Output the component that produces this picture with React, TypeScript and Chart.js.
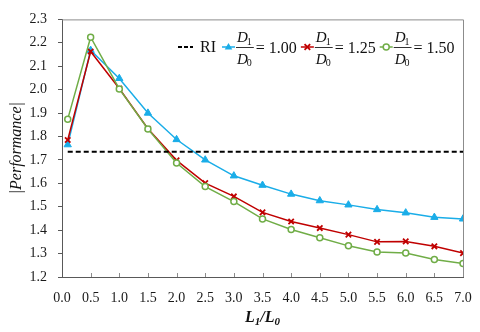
import React, { useEffect, useRef } from "react";
import { Chart, registerables } from "chart.js";

Chart.register(...registerables);

const xValues = [0.1, 0.5, 1.0, 1.5, 2.0, 2.5, 3.0, 3.5, 4.0, 4.5, 5.0, 5.5, 6.0, 6.5, 7.0];
const ratio100 = [1.765, 2.168, 2.048, 1.9, 1.787, 1.7, 1.632, 1.592, 1.554, 1.526, 1.508, 1.488, 1.474, 1.455, 1.448];
const ratio125 = [1.785, 2.163, 2.005, 1.833, 1.698, 1.601, 1.544, 1.476, 1.437, 1.409, 1.381, 1.35, 1.352, 1.331, 1.302];
const ratio150 = [1.874, 2.224, 2.003, 1.832, 1.687, 1.586, 1.522, 1.448, 1.403, 1.368, 1.333, 1.307, 1.302, 1.275, 1.258];
const riValue = 1.735;
const riRange = [0.1, 7.0];
const yMin = 1.2;
const yMax = 2.3;
const yStep = 0.1;
const xMin = 0;
const xMax = 7;
const xStep = 0.5;
const legendValues = ["1.00", "1.25", "1.50"];
const yTitle = "|Performance|";

const BLUE = "#1AADE8";
const RED = "#C00000";
const GREEN = "#70AD47";
const SERIF = "'Liberation Serif', 'Times New Roman', serif";

const toPoints = (ys: number[]) => ys.map((y, i) => ({ x: xValues[i], y }));

function drawMarker(ctx: CanvasRenderingContext2D, kind: string, x: number, y: number, color: string) {
  ctx.save();
  ctx.setLineDash([]);
  if (kind === "triangle") {
    const r = 4;
    ctx.fillStyle = color;
    ctx.beginPath();
    ctx.moveTo(x, y - r);
    ctx.lineTo(x + r * 0.95, y + r * 0.6);
    ctx.lineTo(x - r * 0.95, y + r * 0.6);
    ctx.closePath();
    ctx.fill();
  } else if (kind === "cross") {
    const r = 2.8;
    ctx.strokeStyle = color;
    ctx.lineWidth = 1.8;
    ctx.beginPath();
    ctx.moveTo(x - r, y - r);
    ctx.lineTo(x + r, y + r);
    ctx.moveTo(x - r, y + r);
    ctx.lineTo(x + r, y - r);
    ctx.stroke();
  } else {
    ctx.strokeStyle = color;
    ctx.fillStyle = "#fff";
    ctx.lineWidth = 1.5;
    ctx.beginPath();
    ctx.arc(x, y, 3, 0, Math.PI * 2);
    ctx.fill();
    ctx.stroke();
  }
  ctx.restore();
}

const decorPlugin = {
  id: "decor",
  afterDraw(chart: any) {
    const ctx: CanvasRenderingContext2D = chart.ctx;
    const { left, right, top, bottom } = chart.chartArea;
    const xs = chart.scales.x;
    ctx.save();
    // frame top & right
    ctx.strokeStyle = "#8c8c8c";
    ctx.lineWidth = 1;
    ctx.beginPath();
    ctx.moveTo(left, top + 0.5);
    ctx.lineTo(right + 0.5, top + 0.5);
    ctx.lineTo(right + 0.5, bottom);
    ctx.stroke();
    // x inside ticks
    ctx.strokeStyle = "#8c8c8c";
    ctx.beginPath();
    for (let v = xMin + xStep; v < xMax + 1e-9; v += xStep) {
      const px = Math.round(xs.getPixelForValue(v)) + 0.5;
      ctx.moveTo(px, bottom);
      ctx.lineTo(px, bottom - 4);
    }
    ctx.stroke();

    // y title
    ctx.save();
    ctx.translate(17, (top + bottom) / 2);
    ctx.rotate(-Math.PI / 2);
    ctx.font = `italic 16px ${SERIF}`;
    ctx.fillStyle = "#111";
    ctx.textAlign = "center";
    ctx.textBaseline = "middle";
    ctx.fillText(yTitle, 0, 0);
    ctx.restore();

    // x title L1/L0
    const big = `bold italic 16px ${SERIF}`;
    const small = `bold italic 11px ${SERIF}`;
    const parts = [
      { t: "L", f: big, dy: 0 },
      { t: "1", f: small, dy: 3 },
      { t: "/L", f: big, dy: 0 },
      { t: "0", f: small, dy: 3 },
    ];
    let total = 0;
    for (const p of parts) {
      ctx.font = p.f;
      total += ctx.measureText(p.t).width;
    }
    let cx = (left + right) / 2 - total / 2;
    ctx.fillStyle = "#111";
    ctx.textAlign = "left";
    ctx.textBaseline = "alphabetic";
    for (const p of parts) {
      ctx.font = p.f;
      ctx.fillText(p.t, cx, 322 + p.dy);
      cx += ctx.measureText(p.t).width;
    }

    // legend
    const midY = 47;
    let lx = 178;
    ctx.strokeStyle = "#000";
    ctx.lineWidth = 2;
    ctx.setLineDash([4, 2]);
    ctx.beginPath();
    ctx.moveTo(lx, midY);
    ctx.lineTo(lx + 15, midY);
    ctx.stroke();
    ctx.setLineDash([]);
    lx = 200;
    ctx.font = `16px ${SERIF}`;
    ctx.fillStyle = "#111";
    ctx.textBaseline = "alphabetic";
    ctx.fillText("RI", lx, midY + 5);
    lx += ctx.measureText("RI").width + 6;

    const items = [
      { color: BLUE, kind: "triangle", label: legendValues[0] },
      { color: RED, kind: "cross", label: legendValues[1] },
      { color: GREEN, kind: "circle", label: legendValues[2] },
    ];
    for (const it of items) {
      ctx.strokeStyle = it.color;
      ctx.lineWidth = 1.5;
      ctx.beginPath();
      ctx.moveTo(lx, midY);
      ctx.lineTo(lx + 13, midY);
      ctx.stroke();
      drawMarker(ctx, it.kind, lx + 6.5, midY, it.color);
      lx += 15;
      // fraction
      const dFont = `italic 15px ${SERIF}`;
      const sFont = `10px ${SERIF}`;
      ctx.font = dFont;
      const dW = ctx.measureText("D").width;
      ctx.font = sFont;
      const sW = ctx.measureText("1").width;
      const fw = dW + sW;
      ctx.fillStyle = "#111";
      ctx.font = dFont;
      ctx.fillText("D", lx, midY - 5);
      ctx.font = sFont;
      ctx.fillText("1", lx + dW - 1, midY - 2);
      ctx.font = dFont;
      ctx.fillText("D", lx, midY + 17);
      ctx.font = sFont;
      ctx.fillText("0", lx + dW - 1, midY + 19);
      ctx.strokeStyle = "#333";
      ctx.lineWidth = 1;
      ctx.beginPath();
      ctx.moveTo(lx - 1, midY + 0.5);
      ctx.lineTo(lx + fw + 1, midY + 0.5);
      ctx.stroke();
      lx += fw + 3;
      ctx.font = `16px ${SERIF}`;
      const txt = "= " + it.label;
      ctx.fillText(txt, lx, midY + 5.5);
      lx += ctx.measureText(txt).width + 4;
    }
    ctx.restore();
  },
};

export default function App() {
  const ref = useRef<HTMLCanvasElement | null>(null);
  useEffect(() => {
    document.body.style.margin = "0";
    const canvas = ref.current!;
    const chart = new Chart(canvas, {
      type: "line",
      data: {
        datasets: [
          {
            label: "RI",
            data: riRange.map((x) => ({ x, y: riValue })),
            borderColor: "#000",
            borderWidth: 2,
            borderDash: [5, 3],
            pointRadius: 0,
            fill: false,
          },
          {
            label: "1.50",
            data: toPoints(ratio150),
            borderColor: GREEN,
            backgroundColor: "#fff",
            borderWidth: 1.5,
            pointStyle: "circle",
            pointRadius: 3,
            pointBorderWidth: 1.5,
            fill: false,
          },
          {
            label: "1.25",
            data: toPoints(ratio125),
            borderColor: RED,
            backgroundColor: RED,
            borderWidth: 1.5,
            pointStyle: "crossRot",
            pointRadius: 3.8,
            pointBorderWidth: 1.8,
            fill: false,
          },
          {
            label: "1.00",
            data: toPoints(ratio100),
            borderColor: BLUE,
            backgroundColor: BLUE,
            borderWidth: 1.5,
            pointStyle: "triangle",
            pointRadius: 4.2,
            pointBorderWidth: 1,
            fill: false,
          },
        ],
      },
      options: {
        responsive: false,
        animation: false,
        layout: { padding: { top: 17, right: 17, left: 0, bottom: 0 } },
        plugins: { legend: { display: false }, tooltip: { enabled: false } },
        scales: {
          x: {
            type: "linear",
            min: xMin,
            max: xMax,
            grid: { display: false },
            border: { display: true, color: "#595959", width: 1 },
            ticks: {
              stepSize: xStep,
              padding: 5,
              color: "#1a1a1a",
              font: { family: SERIF, size: 14 },
              callback: (v: any) => Number(v).toFixed(1),
              maxRotation: 0,
              autoSkip: false,
            },
            afterFit: (s: any) => {
              s.height = 55;
            },
          },
          y: {
            type: "linear",
            min: yMin,
            max: yMax,
            grid: { drawOnChartArea: false, drawTicks: true, tickLength: 4, color: "#595959" },
            border: { display: true, color: "#595959", width: 1 },
            ticks: {
              stepSize: yStep,
              padding: 11,
              color: "#1a1a1a",
              font: { family: SERIF, size: 14 },
              callback: (v: any) => Number(v).toFixed(1),
              autoSkip: false,
            },
            afterFit: (s: any) => {
              s.width = 62;
            },
          },
        },
      },
      plugins: [decorPlugin],
    } as any);
    return () => chart.destroy();
  }, []);
  return (
    <div style={{ width: 480, height: 332 }}>
      <canvas ref={ref} width={480} height={332} />
    </div>
  );
}
